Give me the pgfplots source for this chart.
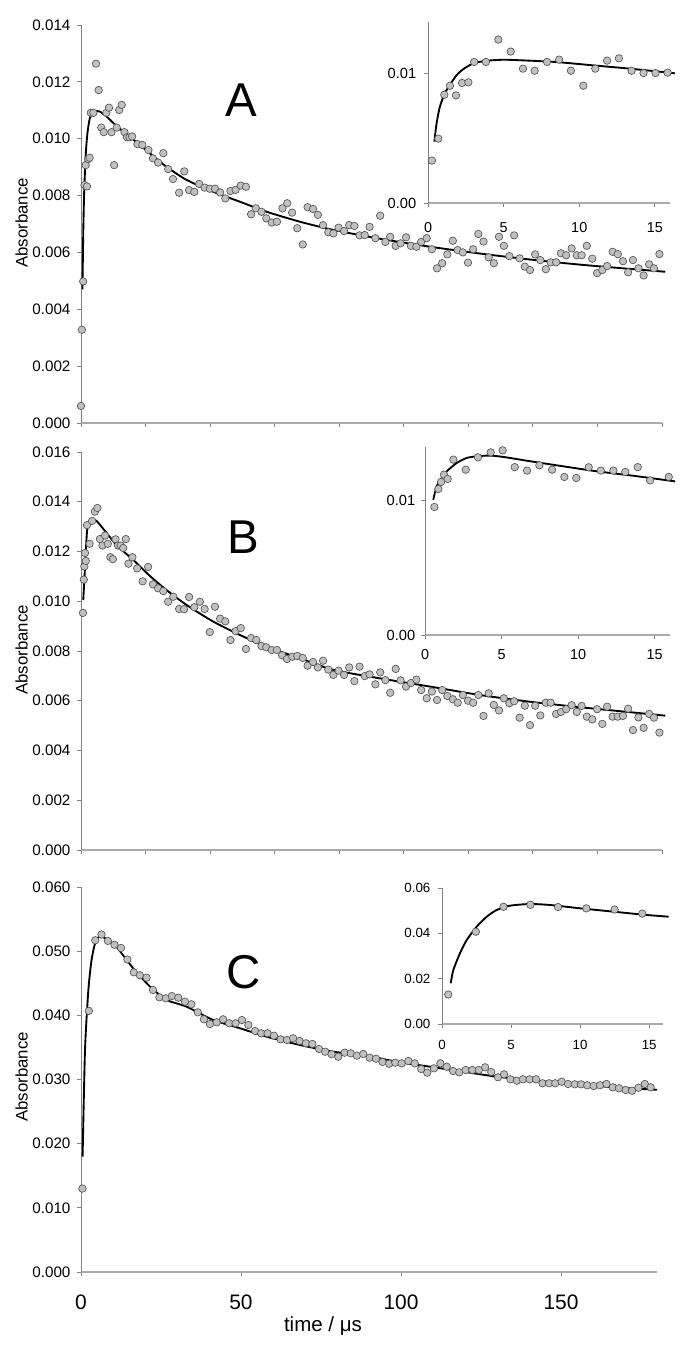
\documentclass[border=0pt]{standalone}
\usepackage{pgfplots}
\usepackage{pgfplotstable}
\pgfplotsset{compat=1.18}
\usepackage{fontspec}
\setmainfont{Liberation Sans}
\definecolor{axgray}{RGB}{130,130,130}
\definecolor{axgrayx}{RGB}{170,170,170}
\definecolor{ptfill}{RGB}{192,192,192}
\definecolor{ptedge}{RGB}{85,85,85}

\pgfplotstableread[row sep=\\]{
x y\\
0.0 0.0006\\
0.26 0.00328\\
0.68 0.00498\\
1.08 0.00837\\
1.45 0.00907\\
1.85 0.00832\\
2.25 0.00928\\
2.67 0.00933\\
3.05 0.01091\\
3.83 0.01091\\
4.65 0.01264\\
5.47 0.01171\\
6.28 0.01039\\
7.05 0.01023\\
7.87 0.01091\\
8.67 0.01109\\
9.45 0.01023\\
10.27 0.00907\\
11.06 0.01039\\
11.84 0.01101\\
12.62 0.01119\\
13.46 0.01023\\
14.25 0.01005\\
15.04 0.01005\\
15.84 0.01008\\
17.5 0.00981\\
19.0 0.00978\\
20.9 0.0096\\
22.3 0.00931\\
23.9 0.00916\\
25.5 0.00949\\
27.0 0.00893\\
28.5 0.00858\\
30.4 0.0081\\
32.0 0.00885\\
33.5 0.00819\\
35.1 0.00813\\
36.6 0.00841\\
38.3 0.00828\\
39.9 0.00824\\
41.5 0.00824\\
43.1 0.00811\\
44.7 0.0079\\
46.3 0.00816\\
47.9 0.0082\\
49.5 0.00835\\
51.1 0.00831\\
52.7 0.00734\\
54.2 0.00755\\
55.9 0.00743\\
57.4 0.0072\\
59.1 0.00705\\
60.7 0.00708\\
62.4 0.00755\\
63.9 0.00773\\
65.4 0.0074\\
67.0 0.00685\\
68.7 0.00628\\
70.2 0.00759\\
71.9 0.00753\\
73.4 0.00732\\
75.0 0.00696\\
76.6 0.00671\\
78.2 0.00667\\
79.8 0.00687\\
81.5 0.00675\\
83.1 0.00696\\
84.7 0.00693\\
86.3 0.0066\\
87.9 0.00661\\
89.4 0.0069\\
91.2 0.0065\\
92.7 0.00729\\
94.3 0.00637\\
95.8 0.00655\\
97.5 0.00623\\
99.0 0.00632\\
100.7 0.00653\\
102.2 0.00623\\
103.9 0.0062\\
105.4 0.00637\\
107.1 0.0065\\
108.7 0.00611\\
110.3 0.00544\\
111.9 0.00562\\
113.5 0.00593\\
115.2 0.00641\\
116.7 0.00608\\
118.3 0.006\\
119.9 0.00564\\
121.5 0.00611\\
123.1 0.00665\\
124.7 0.00638\\
126.3 0.00583\\
127.9 0.00562\\
129.5 0.00655\\
131.0 0.00623\\
132.7 0.00587\\
134.2 0.0066\\
135.9 0.00579\\
137.5 0.0055\\
139.1 0.00538\\
140.7 0.00593\\
142.3 0.00573\\
144.0 0.00541\\
145.5 0.00565\\
147.2 0.00565\\
148.7 0.00597\\
150.3 0.0059\\
152.0 0.00614\\
153.6 0.0059\\
155.1 0.0059\\
156.7 0.00623\\
158.4 0.00578\\
159.9 0.00527\\
161.5 0.00538\\
163.0 0.00552\\
164.7 0.00602\\
166.3 0.00594\\
167.9 0.00569\\
169.5 0.0053\\
171.0 0.00573\\
172.7 0.00544\\
174.3 0.00519\\
176.0 0.00558\\
177.5 0.00544\\
179.2 0.00594\\
}\dataA

\pgfplotstableread[row sep=\\]{
x y\\
0.45 0.0047\\
0.7 0.0067\\
1.0 0.0082\\
1.5 0.0095\\
2.0 0.0102\\
2.8 0.01075\\
4.3 0.01097\\
5.9 0.01095\\
8.0 0.01077\\
11.0 0.01045\\
16.2 0.00997\\
21.4 0.00948\\
26.5 0.00901\\
32.7 0.00855\\
41.0 0.00813\\
49.3 0.00778\\
57.5 0.00743\\
67.8 0.00708\\
78.2 0.00679\\
92.6 0.00648\\
108.1 0.0062\\
123.6 0.00596\\
139.1 0.00575\\
154.6 0.00557\\
170.1 0.00542\\
181 0.00532\\
}\fitA

\pgfplotstableread[row sep=\\]{
x y\\
0.42 0.00475\\
0.57 0.00618\\
0.79 0.00747\\
1.12 0.0085\\
1.45 0.00915\\
1.9 0.0099\\
2.33 0.01035\\
3.0 0.0108\\
3.88 0.011\\
4.98 0.01108\\
6.3 0.01103\\
8.5 0.0109\\
11.15 0.01062\\
13.35 0.01039\\
16.33 0.01003\\
}\fitAi

\pgfplotstableread[row sep=\\]{
x y\\
0.61 0.00953\\
0.87 0.01087\\
1.05 0.0114\\
1.24 0.01194\\
1.48 0.01162\\
1.85 0.01306\\
2.66 0.01231\\
3.46 0.01323\\
4.29 0.0136\\
5.07 0.01375\\
5.86 0.0125\\
6.66 0.01224\\
7.47 0.01264\\
8.3 0.01231\\
9.1 0.01177\\
9.88 0.01169\\
10.69 0.01249\\
11.48 0.01224\\
12.3 0.01224\\
13.08 0.01214\\
13.89 0.0125\\
14.7 0.01151\\
15.92 0.01177\\
17.4 0.01132\\
19.1 0.0108\\
20.8 0.01138\\
22.3 0.01068\\
23.9 0.01052\\
25.5 0.01041\\
27.0 0.00998\\
28.6 0.01018\\
30.4 0.00969\\
31.9 0.00968\\
33.5 0.01017\\
35.1 0.00976\\
36.8 0.00998\\
38.3 0.00969\\
39.9 0.00876\\
41.5 0.00978\\
43.1 0.0093\\
44.7 0.00919\\
46.3 0.00844\\
47.9 0.0088\\
49.5 0.00892\\
51.1 0.00808\\
52.7 0.00852\\
54.3 0.00844\\
55.9 0.0082\\
57.4 0.00815\\
59.1 0.00804\\
60.7 0.00804\\
62.3 0.00783\\
63.8 0.00768\\
65.5 0.00777\\
67.0 0.0078\\
68.7 0.00772\\
70.2 0.00741\\
71.9 0.00756\\
73.4 0.00734\\
75.0 0.00761\\
76.6 0.00725\\
78.2 0.00704\\
79.8 0.00721\\
81.5 0.00704\\
83.1 0.00734\\
84.7 0.00679\\
86.3 0.00737\\
87.9 0.00699\\
89.4 0.00706\\
91.2 0.00666\\
92.7 0.00714\\
94.3 0.00683\\
95.8 0.00632\\
97.5 0.00728\\
99.0 0.00682\\
100.7 0.00657\\
102.2 0.00671\\
103.9 0.00685\\
105.4 0.00643\\
107.1 0.0061\\
108.7 0.00637\\
110.3 0.00603\\
111.9 0.00643\\
113.5 0.00619\\
115.2 0.00606\\
116.7 0.00592\\
118.3 0.00623\\
119.9 0.006\\
121.5 0.00592\\
123.1 0.00623\\
124.7 0.00539\\
126.3 0.0063\\
127.9 0.00583\\
129.5 0.00561\\
131.0 0.0061\\
132.7 0.0059\\
134.2 0.00598\\
135.9 0.00532\\
137.5 0.0058\\
139.1 0.00502\\
140.7 0.0058\\
142.3 0.00541\\
144.0 0.00592\\
145.5 0.00592\\
147.2 0.00547\\
148.7 0.00555\\
150.3 0.00566\\
152.0 0.00582\\
153.6 0.00555\\
155.1 0.00579\\
156.7 0.00536\\
158.4 0.00525\\
159.9 0.00566\\
161.5 0.00507\\
163.0 0.00576\\
164.7 0.00536\\
166.3 0.00536\\
167.9 0.00539\\
169.5 0.00568\\
171.0 0.00482\\
172.7 0.00533\\
174.3 0.00491\\
176.0 0.00547\\
177.5 0.00532\\
179.2 0.00472\\
}\dataB

\pgfplotstableread[row sep=\\]{
x y\\
0.7 0.01005\\
1.2 0.01126\\
1.9 0.01286\\
2.8 0.01307\\
4.3 0.01327\\
5.9 0.01307\\
11.0 0.01226\\
16.2 0.01166\\
21.4 0.01101\\
26.5 0.01045\\
32.7 0.00985\\
41.0 0.00918\\
49.3 0.00864\\
57.5 0.00817\\
67.8 0.00771\\
78.2 0.00724\\
92.6 0.0069\\
108.1 0.00657\\
123.6 0.00623\\
139.1 0.00596\\
154.6 0.00574\\
170.1 0.00554\\
181 0.0054\\
}\fitB

\pgfplotstableread[row sep=\\]{
x y\\
0.54 0.01007\\
0.76 0.01107\\
1.09 0.01169\\
1.42 0.01219\\
2.07 0.01281\\
2.72 0.01318\\
3.38 0.01331\\
4.25 0.01336\\
5.11 0.01326\\
6.86 0.01294\\
9.03 0.01256\\
11.2 0.01219\\
13.39 0.01189\\
16.33 0.01144\\
}\fitBi

\pgfplotstableread[row sep=\\]{
x y\\
0.45 0.0130\\
2.45 0.0407\\
4.45 0.0517\\
6.4 0.0526\\
8.4 0.0516\\
10.45 0.0510\\
12.5 0.0505\\
14.5 0.0487\\
16.5 0.0467\\
18.4 0.04624\\
20.5 0.04587\\
22.5 0.04395\\
24.5 0.04281\\
26.5 0.04265\\
28.4 0.04301\\
30.4 0.04275\\
32.5 0.04212\\
34.5 0.04172\\
36.5 0.04047\\
38.4 0.03938\\
40.3 0.03865\\
42.4 0.03891\\
44.4 0.03938\\
46.3 0.03876\\
48.3 0.03876\\
50.3 0.03927\\
52.3 0.03849\\
54.4 0.03756\\
56.3 0.0372\\
58.3 0.0372\\
60.3 0.03683\\
62.4 0.03626\\
64.4 0.03616\\
66.3 0.03642\\
68.3 0.036\\
70.3 0.03564\\
72.3 0.03553\\
74.4 0.03475\\
76.3 0.03433\\
78.3 0.03393\\
80.4 0.03355\\
82.4 0.03418\\
84.3 0.03408\\
86.2 0.03371\\
88.2 0.03397\\
90.2 0.0334\\
92.2 0.03324\\
94.2 0.03273\\
96.3 0.03246\\
98.2 0.03262\\
100.2 0.03252\\
102.3 0.03288\\
104.3 0.03252\\
106.3 0.03164\\
108.2 0.03106\\
110.3 0.03174\\
112.3 0.03252\\
114.3 0.03199\\
116.3 0.03132\\
118.2 0.03112\\
120.2 0.03148\\
122.3 0.03148\\
124.3 0.03148\\
126.3 0.0319\\
128.2 0.03117\\
130.3 0.03034\\
132.2 0.03081\\
134.2 0.03003\\
136.2 0.02981\\
138.1 0.03003\\
140.2 0.03003\\
142.2 0.03003\\
144.2 0.02941\\
146.3 0.02941\\
148.2 0.02941\\
150.2 0.02966\\
152.2 0.0293\\
154.3 0.02925\\
156.3 0.02925\\
158.2 0.0291\\
160.2 0.02899\\
162.2 0.0291\\
164.2 0.0293\\
166.2 0.02878\\
168.1 0.02863\\
170.2 0.02836\\
172.2 0.02825\\
174.2 0.02872\\
176.2 0.0293\\
178.0 0.02878\\
}\dataC

\pgfplotstableread[row sep=\\]{
x y\\
0.5 0.01797\\
1.25 0.0346\\
2.3 0.04395\\
3.3 0.04862\\
4.4 0.05122\\
5.9 0.05236\\
8.0 0.05185\\
11.2 0.0506\\
16.3 0.04733\\
21.6 0.04446\\
26.8 0.04239\\
33.0 0.04135\\
41.3 0.03927\\
49.7 0.03798\\
58.0 0.03667\\
68.4 0.03538\\
78.8 0.03433\\
88.2 0.03382\\
98.6 0.03277\\
109.1 0.03199\\
119.5 0.03122\\
129.9 0.03044\\
140.3 0.02992\\
150.7 0.02941\\
161.2 0.02899\\
171.6 0.02863\\
180 0.0284\\
}\fitC

\pgfplotstableread[row sep=\\]{
x y\\
0.63 0.01796\\
0.82 0.02382\\
1.3 0.03119\\
1.79 0.03706\\
2.51 0.04293\\
3.24 0.04734\\
3.96 0.05029\\
4.93 0.0522\\
6.38 0.05294\\
7.83 0.0525\\
10.0 0.05103\\
12.4 0.04956\\
14.83 0.04809\\
16.4 0.04734\\
}\fitCi

\pgfplotsset{
  base/.style={
    anchor=south west, scale only axis, axis lines=left,
    axis line style={-}, 
    x axis line style={draw=axgrayx, line width=1.1pt},
    y axis line style={draw=axgray, line width=0.7pt},
    tick style={draw=axgray, line width=0.7pt},
    tick align=outside, major tick length=3pt,
    clip=false, scaled ticks=false,
    /pgf/number format/assume math mode=true,
  },
  pts/.style={only marks, mark=*, mark size=2.8pt,
    mark options={fill=ptfill, draw=ptedge, line width=0.5pt}},
  fitl/.style={black, line width=1.4pt, no marks, smooth, tension=0.4},
}

\begin{document}
\begin{tikzpicture}
\useasboundingbox (0,0) rectangle (514.5pt,1014pt);

% ---------- A main
\begin{axis}[base, at={(60.75pt,696.75pt)}, width=435.75pt, height=298.5pt,
  xmin=0, xmax=180, ymin=0, ymax=0.014,
  xtick={0,20,40,60,80,100,120,140,160,180}, xticklabels={},
  ytick={0,0.002,0.004,0.006,0.008,0.010,0.012,0.014},
  yticklabel style={font=\fontsize{11.4}{13}\selectfont, xshift=-1.4pt,
    /pgf/number format/.cd, fixed, fixed zerofill, precision=3}]
  \addplot[fitl] table {\fitA};
  \addplot[pts] table {\dataA};
\end{axis}
% ---------- A inset
\begin{axis}[base, at={(321pt,861.75pt)}, width=181.5pt, height=135.75pt,
  xmin=0, xmax=16, ymin=0, ymax=0.014,
  xtick={0,5,10,15}, ytick={0,0.01},
  xticklabel style={font=\fontsize{10.8}{13}\selectfont, yshift=-8.1pt},
  yticklabel style={font=\fontsize{11}{13}\selectfont, xshift=-2.3pt,
    /pgf/number format/.cd, fixed, fixed zerofill, precision=2}]
  \addplot[fitl] table {\fitAi};
  \addplot[pts, restrict x to domain=0.1:16.5] table {\dataA};
\end{axis}

% ---------- B main
\begin{axis}[base, at={(60.75pt,376.5pt)}, width=435.75pt, height=298.5pt,
  xmin=0, xmax=180, ymin=0, ymax=0.016,
  xtick={0,20,40,60,80,100,120,140,160,180}, xticklabels={},
  ytick={0,0.002,0.004,0.006,0.008,0.010,0.012,0.014,0.016},
  yticklabel style={font=\fontsize{11.4}{13}\selectfont, xshift=-1.4pt,
    /pgf/number format/.cd, fixed, fixed zerofill, precision=3}]
  \addplot[fitl] table {\fitB};
  \addplot[pts] table {\dataB};
\end{axis}
% ---------- B inset
\begin{axis}[base, at={(318.75pt,537.75pt)}, width=183.75pt, height=141pt,
  xmin=0, xmax=16, ymin=0, ymax=0.014,
  xtick={0,5,10,15}, ytick={0,0.01},
  xticklabel style={font=\fontsize{10.8}{13}\selectfont, yshift=-4.6pt},
  yticklabel style={font=\fontsize{11}{13}\selectfont, xshift=-0.8pt,
    /pgf/number format/.cd, fixed, fixed zerofill, precision=2}]
  \addplot[fitl] table {\fitBi};
  \addplot[pts, restrict x to domain=0:16.5] table {\dataB};
\end{axis}

% ---------- C main
\begin{axis}[base, at={(60.75pt,60pt)}, width=432pt, height=288.75pt,
  xmin=0, xmax=180, ymin=0, ymax=0.06,
  xtick={0,50,100,150},
  ytick={0,0.01,0.02,0.03,0.04,0.05,0.06},
  xticklabel style={font=\fontsize{15.7}{18}\selectfont, yshift=-10.3pt},
  yticklabel style={font=\fontsize{11.4}{13}\selectfont, xshift=-1.4pt,
    /pgf/number format/.cd, fixed, fixed zerofill, precision=3}]
  \addplot[fitl] table {\fitC};
  \addplot[pts] table {\dataC};
\end{axis}
% ---------- C inset
\begin{axis}[base, at={(331.5pt,246pt)}, width=165.75pt, height=102pt,
  xmin=0, xmax=16, ymin=0, ymax=0.06,
  xtick={0,5,10,15}, ytick={0,0.02,0.04,0.06},
  xticklabel style={font=\fontsize{10}{12}\selectfont, yshift=-5.7pt},
  yticklabel style={font=\fontsize{10}{12}\selectfont, xshift=-2.2pt,
    /pgf/number format/.cd, fixed, fixed zerofill, precision=2}]
  \addplot[fitl] table {\fitCi};
  \addplot[pts, restrict x to domain=0:16.4] table {\dataC};
\end{axis}

% ---------- labels
\node[rotate=90, font=\fontsize{12.6}{14}\selectfont] at (16.3pt,846.75pt) {Absorbance};
\node[rotate=90, font=\fontsize{12.6}{14}\selectfont] at (16.3pt,526.5pt) {Absorbance};
\node[rotate=90, font=\fontsize{12.6}{14}\selectfont] at (16.3pt,206.25pt) {Absorbance};
\node[font=\fontsize{35.6}{40}\selectfont, inner sep=0pt] at (180.75pt,939.2pt) {A};
\node[font=\fontsize{35.6}{40}\selectfont, inner sep=0pt] at (182.8pt,610.9pt) {B};
\node[font=\fontsize{35.6}{40}\selectfont, inner sep=0pt] at (182.5pt,285.2pt) {C};
\node[font=\fontsize{15.4}{18}\selectfont] at (242.25pt,19.5pt) {time / μs};
\end{tikzpicture}
\end{document}
